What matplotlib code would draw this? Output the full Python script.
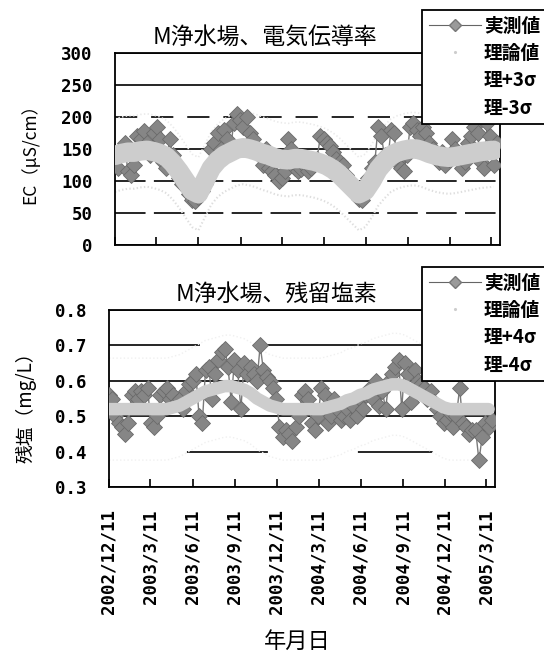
import matplotlib
matplotlib.use('Agg')
import matplotlib.pyplot as plt
from matplotlib.lines import Line2D
import pandas as pd

plt.rcParams['font.family'] = ['Noto Sans CJK JP', 'DejaVu Sans']
plt.rcParams['lines.scale_dashes'] = False

# ---------------- data ----------------
START = '2002-12-11'
X_END = '2005-03-30'
tick_labels = ['2002/12/11', '2003/3/11', '2003/6/11', '2003/9/11', '2003/12/11',
               '2004/3/11', '2004/6/11', '2004/9/11', '2004/12/11', '2005/3/11']

# EC (uS/cm), weekly measured values
ec_measured = [135, 120, 150, 160, 115, 110, 125, 170, 165, 178,
               160, 140, 175, 185, 165, 130, 120, 165, 140, 120,
               105, 95, 90, 80, 70, 68, 75, 85, 95, 110,
               150, 160, 175, 150, 180, 165, 150, 190, 205, 195,
               185, 200, 175, 165, 150, 140, 125, 150, 120, 115,
               110, 100, 105, 115, 165, 150, 120, 115, 118, 125,
               115, 120, 130, 135, 170, 165, 160, 155, 145, 135,
               130, 125, 110, 100, 90, 80, 72, 70, 95, 105,
               120, 130, 185, 170, 140, 130, 180, 175, 130, 120,
               115, 140, 185, 190, 180, 170, 185, 175, 160, 150,
               140, 130, 145, 125, 135, 165, 150, 140, 120, 130,
               160, 170, 185, 175, 130, 120, 190, 170, 125, 160]
# EC theoretical values, bi-weekly
ec_theory = [140, 143, 145, 145, 147, 148, 146, 143, 138, 128,
             115, 100, 85, 80, 100, 120, 132, 140, 145, 150,
             152, 150, 147, 143, 140, 136, 134, 133, 135, 135,
             133, 131, 128, 124, 118, 110, 100, 90, 80, 85,
             100, 118, 130, 140, 145, 148, 150, 150, 147, 143,
             140, 138, 137, 138, 140, 142, 144, 146, 147, 148]
ec_sigma = 19

# residual chlorine (mg/L), weekly measured values
cl_measured = [0.56, 0.55, 0.50, 0.48, 0.47, 0.45, 0.48, 0.56, 0.57, 0.55,
               0.57, 0.56, 0.58, 0.48, 0.47, 0.50, 0.56, 0.57, 0.58, 0.55,
               0.56, 0.54, 0.55, 0.52, 0.57, 0.59, 0.60, 0.62, 0.50, 0.48,
               0.63, 0.64, 0.55, 0.62, 0.66, 0.68, 0.69, 0.64, 0.54, 0.66,
               0.63, 0.52, 0.65, 0.62, 0.64, 0.62, 0.60, 0.70, 0.63, 0.61,
               0.60, 0.58, 0.55, 0.47, 0.44, 0.46, 0.45, 0.43, 0.47, 0.50,
               0.56, 0.57, 0.55, 0.48, 0.46, 0.50, 0.58, 0.56, 0.48, 0.50,
               0.55, 0.52, 0.49, 0.50, 0.52, 0.49, 0.53, 0.50, 0.55, 0.52,
               0.56, 0.58, 0.55, 0.60, 0.53, 0.57, 0.52, 0.60, 0.62, 0.64,
               0.66, 0.52, 0.65, 0.62, 0.54, 0.63, 0.60, 0.59, 0.58, 0.55,
               0.57, 0.54, 0.52, 0.50, 0.48, 0.49, 0.51, 0.47, 0.50, 0.58,
               0.48, 0.47, 0.45, 0.46, 0.46, 0.375, 0.44, 0.48, 0.47, 0.49]
# chlorine theoretical values, bi-weekly
cl_theory = [0.52, 0.52, 0.52, 0.52, 0.52, 0.52, 0.52, 0.52, 0.52, 0.52,
             0.525, 0.53, 0.54, 0.55, 0.56, 0.57, 0.575, 0.58, 0.585, 0.585,
             0.58, 0.575, 0.565, 0.55, 0.54, 0.53, 0.525, 0.52, 0.52, 0.52,
             0.52, 0.52, 0.52, 0.52, 0.525, 0.53, 0.535, 0.545, 0.55, 0.56,
             0.565, 0.575, 0.58, 0.585, 0.59, 0.59, 0.585, 0.575, 0.565, 0.555,
             0.545, 0.535, 0.525, 0.52, 0.52, 0.52, 0.52, 0.52, 0.52, 0.52]
cl_sigma = 0.036

legend_top = ['実測値', '理論値', '理+3σ', '理-3σ']
legend_bot = ['実測値', '理論値', '理+4σ', '理-4σ']

# ---------------- derived ----------------
m_dates = pd.date_range(START, periods=len(ec_measured), freq='7D')
t_dates = pd.date_range(START, periods=len(ec_theory), freq='14D')
tick_dates = pd.to_datetime(tick_labels, format='%Y/%m/%d')
ec_t = pd.Series(ec_theory, index=t_dates)
cl_t = pd.Series(cl_theory, index=t_dates)

W, H = 544, 654
fig = plt.figure(figsize=(W / 100, H / 100), dpi=100)
ax1 = fig.add_axes([115 / W, 1 - 245 / H, 385 / W, 192 / H])
ax2 = fig.add_axes([109 / W, 1 - 487 / H, 386 / W, 177 / H])

MEAS_KW = dict(color='#7a7a7a', lw=1.0, marker='D', ms=8, mfc='#868686',
               mec='#6a6a6a', mew=0.6, zorder=3)
LIGHT = '#cdcdcd'
TICKFONT = dict(family='DejaVu Sans Mono', weight='bold')

def style(ax, yticks, ylim, fmt):
    ax.set_xlim(pd.Timestamp(START), pd.Timestamp(X_END))
    ax.set_ylim(*ylim)
    ax.set_yticks(yticks)
    ax.set_yticklabels([fmt.format(v) for v in yticks], fontsize=12.5, **TICKFONT)
    ax.set_xticks(tick_dates)
    ax.tick_params(axis='x', direction='in', length=6, width=1.2)
    ax.tick_params(axis='y', length=0, pad=16)
    for s in ax.spines.values():
        s.set_linewidth(1.3)
    ax.grid(axis='y', color='black', lw=1.2, zorder=1)
    ax.grid(axis='x', visible=False)
    ax.set_axisbelow(True)

# ---- top: EC ----
ax1.plot(m_dates, ec_measured, **MEAS_KW)
ax1.plot(ec_t.index, ec_t.values, color=LIGHT, lw=14, solid_capstyle='round', zorder=4)
ax1.plot(ec_t.index, ec_t.values + 3 * ec_sigma, color='#eaeaea', lw=1.2, ls=':', zorder=2)
ax1.plot(ec_t.index, ec_t.values - 3 * ec_sigma, color='#dedede', lw=1.5, ls=':', zorder=2)
style(ax1, [0, 50, 100, 150, 200, 250, 300], (0, 300), '{:d}')
ax1.set_xticklabels([])
for gl, v in zip(ax1.get_ygridlines(), [0, 50, 100, 150, 200, 250, 300]):
    if v == 200:
        gl.set_dashes((16, 10))
    elif v in (50, 100):
        gl.set_dashes((22, 6))

# ---- bottom: chlorine ----
ax2.plot(m_dates, cl_measured, **MEAS_KW)
ax2.plot(cl_t.index, cl_t.values, color=LIGHT, lw=9, solid_capstyle='round', zorder=4)
ax2.plot(cl_t.index, cl_t.values + 4 * cl_sigma, color='#f0f0f0', lw=1.0, ls=':', zorder=2)
ax2.plot(cl_t.index, cl_t.values - 4 * cl_sigma, color='#f0f0f0', lw=1.0, ls=':', zorder=2)
style(ax2, [0.3, 0.4, 0.5, 0.6, 0.7, 0.8], (0.3, 0.8), '{:.1f}')
ax2.set_xticklabels(tick_labels, rotation=90, fontsize=12.5, va='top', ha='center', **TICKFONT)
ax2.tick_params(axis='x', pad=16)
for gl, v in zip(ax2.get_ygridlines(), [0.3, 0.4, 0.5, 0.6, 0.7, 0.8]):
    if abs(v - 0.7) < 1e-9:
        gl.set_linestyle((0, (65.5, 39.6, 400, 10)))
    elif abs(v - 0.4) < 1e-9:
        gl.set_linestyle((221.8, (58.3, 64.8, 54.0, 100.8)))

# ---- texts ----
fig.text(265 / W, 1 - 37 / H, 'M浄水場、電気伝導率', ha='center', va='center', fontsize=16.5)
fig.text(276 / W, 1 - 294 / H, 'M浄水場、残留塩素', ha='center', va='center', fontsize=16.5)
fig.text(30 / W, 1 - 150 / H, 'EC（μS/cm）', ha='center', va='center', rotation=90, fontsize=12.5)
fig.text(26 / W, 1 - 403 / H, '残塩（mg/L）', ha='center', va='center', rotation=90, fontsize=13.5)
fig.text(297 / W, 1 - 641 / H, '年月日', ha='center', va='center', fontsize=16)

# ---- legends ----
def handles():
    return [Line2D([], [], color='#666666', lw=0.8, marker='D', ms=6, mfc='#9a9a9a', mec='#777777'),
            Line2D([], [], color=LIGHT, lw=0, marker='.', ms=2.5),
            Line2D([], [], color='white', lw=1),
            Line2D([], [], color='white', lw=1)]

for labels, ytop in ((legend_top, 10), (legend_bot, 267)):
    lg = fig.legend(handles(), labels, loc='upper left',
                    bbox_to_anchor=(422 / W, 1 - ytop / H), bbox_transform=fig.transFigure,
                    fontsize=13.5, frameon=True, fancybox=False, edgecolor='black',
                    framealpha=1, borderpad=0.35, labelspacing=0.45, handlelength=2.8,
                    handletextpad=0.15, borderaxespad=0)
    lg.get_frame().set_linewidth(1.3)
    for t in lg.get_texts():
        t.set_fontweight('bold')

fig.savefig('out.png', dpi=100)
